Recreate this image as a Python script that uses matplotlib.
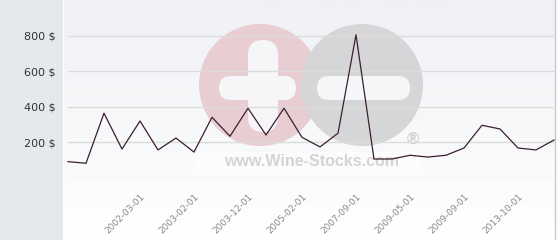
import matplotlib
matplotlib.use("Agg")
import matplotlib.pyplot as plt
import numpy as np
from matplotlib.patches import Circle, FancyBboxPatch, Rectangle

# price per bottle, one value per listing (categorical x)
prices = [92, 83, 365, 163, 321, 158, 225, 146, 342, 235, 393, 242, 393, 229,
          175, 252, 806, 107, 107, 128, 118, 128, 169, 297, 276, 169, 158, 214]

# dated tick labels shown every third point
tick_idx = [4, 7, 10, 13, 16, 19, 22, 25]
tick_labels = ["2002-03-01", "2003-02-01", "2003-12-01", "2005-02-01",
               "2007-09-01", "2009-05-01", "2009-09-01", "2013-10-01"]

y_ticks = [0, 200, 400, 600, 800]
y_labels = ["", "200 $", "400 $", "600 $", "800 $"]

W, H = 560, 240
fig = plt.figure(figsize=(W / 100, H / 100), dpi=100, facecolor="white")

# background: left grey panel + soft gradient plot area, with watermark
bg = fig.add_axes([0, 0, 1, 1], zorder=0)
bg.set_xlim(0, W)
bg.set_ylim(H, 0)
bg.axis("off")
bg.add_patch(Rectangle((0, 0), 63, H, color="#e5e9ec", lw=0))
grad = np.linspace(0, 1, 100).reshape(-1, 1)
bg.imshow(grad, extent=(64, 555, H, 0), cmap=matplotlib.colors.LinearSegmentedColormap.from_list(
    "g", ["#eff1f5", "#ffffff"]), aspect="auto", zorder=1)
bg.plot([555, 555], [0, H], color="#c8c8c8", lw=1, zorder=2)

# watermark logo
bg.add_patch(Circle((260, 85), 61, color="#e8cdd3", lw=0, zorder=2))
bg.add_patch(Circle((362, 85), 61, color="#d6d6d8", lw=0, zorder=2))
bg.add_patch(FancyBboxPatch((219, 76), 77, 24, boxstyle="round,pad=0,rounding_size=12",
                            color="#f6f6f9", lw=0, zorder=3))
bg.add_patch(FancyBboxPatch((248, 40), 30, 92, boxstyle="round,pad=0,rounding_size=15",
                            color="#f6f6f9", lw=0, zorder=3))
bg.add_patch(FancyBboxPatch((317, 76), 93, 24, boxstyle="round,pad=0,rounding_size=12",
                            color="#f6f6f9", lw=0, zorder=3))
bg.add_patch(Rectangle((196, 152), 225, 22, color="white", alpha=0.6, lw=0, zorder=3))
bg.text(312, 162, "www.Wine-Stocks.com", family="Liberation Sans", weight="bold",
        fontsize=11.5, color="#d4d4d4", ha="center", va="center", zorder=4)
bg.text(413, 139, "®", family="Liberation Sans", weight="bold",
        fontsize=12, color="#cfcfcf", ha="center", va="center", zorder=4)

# main chart
left, right = 68 / W, 554 / W
bottom, top = (H - 178) / H, (H - 18) / H
ax = fig.add_axes([left, bottom, right - left, top - bottom], zorder=1)
ax.patch.set_alpha(0)
x = np.arange(len(prices))
ax.plot(x, prices, color="#3b1f2d", lw=0.9, clip_on=False, zorder=3)
ax.set_xlim(0, len(prices) - 1)
ax.set_ylim(0, 901)

ax.set_yticks(y_ticks)
ax.set_yticklabels(y_labels, fontsize=8, color="#333333")
ax.yaxis.grid(True, color="#dcdcdc", lw=1)
ax.set_axisbelow(True)
ax.set_xticks(tick_idx)
ax.set_xticklabels(tick_labels, rotation=45, ha="right", rotation_mode="anchor",
                   fontsize=6.5, color="#8a8a8a")
ax.tick_params(axis="both", length=0)
ax.tick_params(axis="y", pad=9)
ax.tick_params(axis="x", pad=10)
for s in ax.spines.values():
    s.set_visible(False)

fig.savefig("out.png", dpi=100, facecolor="white")
